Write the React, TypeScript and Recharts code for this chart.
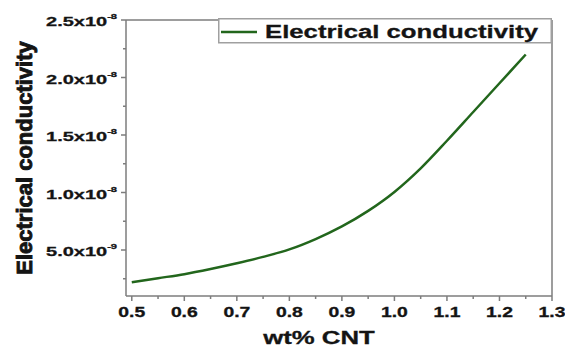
import React from "react";
import { LineChart, Line, XAxis, YAxis, ReferenceLine, Label } from "recharts";

// ---- data ----
const wtCNT = [0.5, 0.55, 0.6, 0.65, 0.7, 0.75, 0.8, 0.85, 0.9, 0.95, 1.0, 1.05, 1.1, 1.15, 1.2, 1.25];
const conductivity = [
  2.2e-9, 2.55e-9, 2.9e-9, 3.35e-9, 3.85e-9, 4.4e-9, 5.05e-9, 5.95e-9, 7.05e-9, 8.4e-9,
  1.005e-8, 1.21e-8, 1.45e-8, 1.7e-8, 1.95e-8, 2.2e-8,
];
const xMajorTicks = [0.5, 0.6, 0.7, 0.8, 0.9, 1.0, 1.1, 1.2, 1.3];
const xMinorTicks = [0.55, 0.65, 0.75, 0.85, 0.95, 1.05, 1.15, 1.25];
const yMajorTicks = [5e-9, 1e-8, 1.5e-8, 2e-8, 2.5e-8];
const yMinorTicks = [2.5e-9, 7.5e-9, 1.25e-8, 1.75e-8, 2.25e-8];
const yTickMantissa = ["5.0", "1.0", "1.5", "2.0", "2.5"];
const yTickExponent = ["-9", "-8", "-8", "-8", "-8"];
const seriesName = "Electrical conductivity";
const xTitle = "wt% CNT";
const yTitle = "Electrical conductivity";

const data = wtCNT.map((x, i) => ({ x, y: conductivity[i] }));

// ---- layout ----
const W = 565;
const H = 349;
const PLOT_LEFT = 126;
const PLOT_RIGHT = 552;
const PLOT_TOP = 20;
const PLOT_BOTTOM = 296;
const Y_AXIS_W = 60;
const X_AXIS_H = 30;
const AXIS_COLOR = "#7d7d7d";
const LINE_COLOR = "#22661c";
const TEXT_COLOR = "#141414";
const FONT = "'Liberation Sans', Arial, sans-serif";

const YTick = (props: any) => {
  const { y, payload } = props;
  const v = payload.value;
  const idx = yMajorTicks.indexOf(v);
  const major = idx >= 0;
  const len = major ? 5 : 3;
  return (
    <g>
      <line x1={PLOT_LEFT - len} x2={PLOT_LEFT} y1={y} y2={y} stroke={AXIS_COLOR} strokeWidth={1.5} />
      {major && (
        <text
          transform={`translate(${PLOT_LEFT - 9}, ${y + 6}) scale(1.48, 1)`}
          textAnchor="end"
          fontFamily={FONT}
          fontWeight="bold"
          fontSize={13.5}
          fill={TEXT_COLOR}
          stroke={TEXT_COLOR}
          strokeWidth={0.3}
        >
          {yTickMantissa[idx] + "x10"}
          <tspan fontSize={7.5} dy={-7}>{yTickExponent[idx]}</tspan>
        </text>
      )}
    </g>
  );
};

const XTick = (props: any) => {
  const { x, payload } = props;
  const v = payload.value;
  const major = xMajorTicks.indexOf(v) >= 0;
  const len = major ? 5 : 3;
  return (
    <g>
      <line x1={x} x2={x} y1={PLOT_BOTTOM} y2={PLOT_BOTTOM + len} stroke={AXIS_COLOR} strokeWidth={1.5} />
      {major && (
        <text
          transform={`translate(${x}, ${PLOT_BOTTOM + 21}) scale(1.38, 1)`}
          textAnchor="middle"
          fontFamily={FONT}
          fontWeight="bold"
          fontSize={14}
          fill={TEXT_COLOR}
          stroke={TEXT_COLOR}
          strokeWidth={0.3}
        >
          {v.toFixed(1)}
        </text>
      )}
    </g>
  );
};

const LegendBox = () => (
  <svg width={334} height={26} style={{ display: "block" }}>
    <rect x={0.75} y={0.75} width={332.5} height={24} fill="#fff" stroke="#a0a0a0" strokeWidth={1.5} />
    <line x1={3} x2={39} y1={14} y2={14} stroke={LINE_COLOR} strokeWidth={2.5} />
    <text
      transform="translate(47, 19.5) scale(1.354, 1)"
      fontFamily={FONT}
      fontWeight="bold"
      fontSize={19}
      fill={TEXT_COLOR}
      stroke={TEXT_COLOR}
      strokeWidth={0.3}
    >
      {seriesName}
    </text>
  </svg>
);

export default function App() {
  return (
    <div style={{ position: "absolute", left: 0, top: 0, width: W, height: H, background: "#fff" }}>
      <LineChart
        width={W}
        height={H}
        data={data}
        margin={{
          top: PLOT_TOP,
          right: W - PLOT_RIGHT,
          bottom: H - PLOT_BOTTOM - X_AXIS_H,
          left: PLOT_LEFT - Y_AXIS_W,
        }}
      >
        <XAxis
          dataKey="x"
          type="number"
          domain={[0.489, 1.3]}
          ticks={[...xMajorTicks, ...xMinorTicks]}
          tick={<XTick />}
          tickLine={false}
          axisLine={{ stroke: AXIS_COLOR, strokeWidth: 1.5 }}
          height={X_AXIS_H}
          allowDataOverflow
          interval={0}
        >
          <Label
            content={() => (
              <text
                transform={`translate(319, 344) scale(1.43, 1)`}
                textAnchor="middle"
                fontFamily={FONT}
                fontWeight="bold"
                fontSize={18}
                fill={TEXT_COLOR}
                stroke={TEXT_COLOR}
                strokeWidth={0.3}
              >
                {xTitle}
              </text>
            )}
          />
        </XAxis>
        <YAxis
          type="number"
          domain={[1e-9, 2.5e-8]}
          ticks={[...yMajorTicks, ...yMinorTicks]}
          tick={<YTick />}
          tickLine={false}
          axisLine={{ stroke: AXIS_COLOR, strokeWidth: 1.5 }}
          width={Y_AXIS_W}
          allowDataOverflow
          interval={0}
        >
          <Label
            content={() => (
              <text
                transform="translate(32, 158) rotate(-90)"
                textAnchor="middle"
                fontFamily={FONT}
                fontWeight="bold"
                fontSize={22}
                fill={TEXT_COLOR}
                stroke={TEXT_COLOR}
                strokeWidth={0.9}
              >
                {yTitle}
              </text>
            )}
          />
        </YAxis>
        <ReferenceLine y={2.5e-8} stroke={AXIS_COLOR} strokeWidth={1.5} ifOverflow="visible" />
        <ReferenceLine x={1.3} stroke={AXIS_COLOR} strokeWidth={1.5} ifOverflow="visible" />
        <Line
          type="monotone"
          dataKey="y"
          stroke={LINE_COLOR}
          strokeWidth={2.5}
          dot={false}
          isAnimationActive={false}
          name={seriesName}
        />
      </LineChart>
      <div style={{ position: "absolute", left: 218, top: 18 }}>
        <LegendBox />
      </div>
    </div>
  );
}
